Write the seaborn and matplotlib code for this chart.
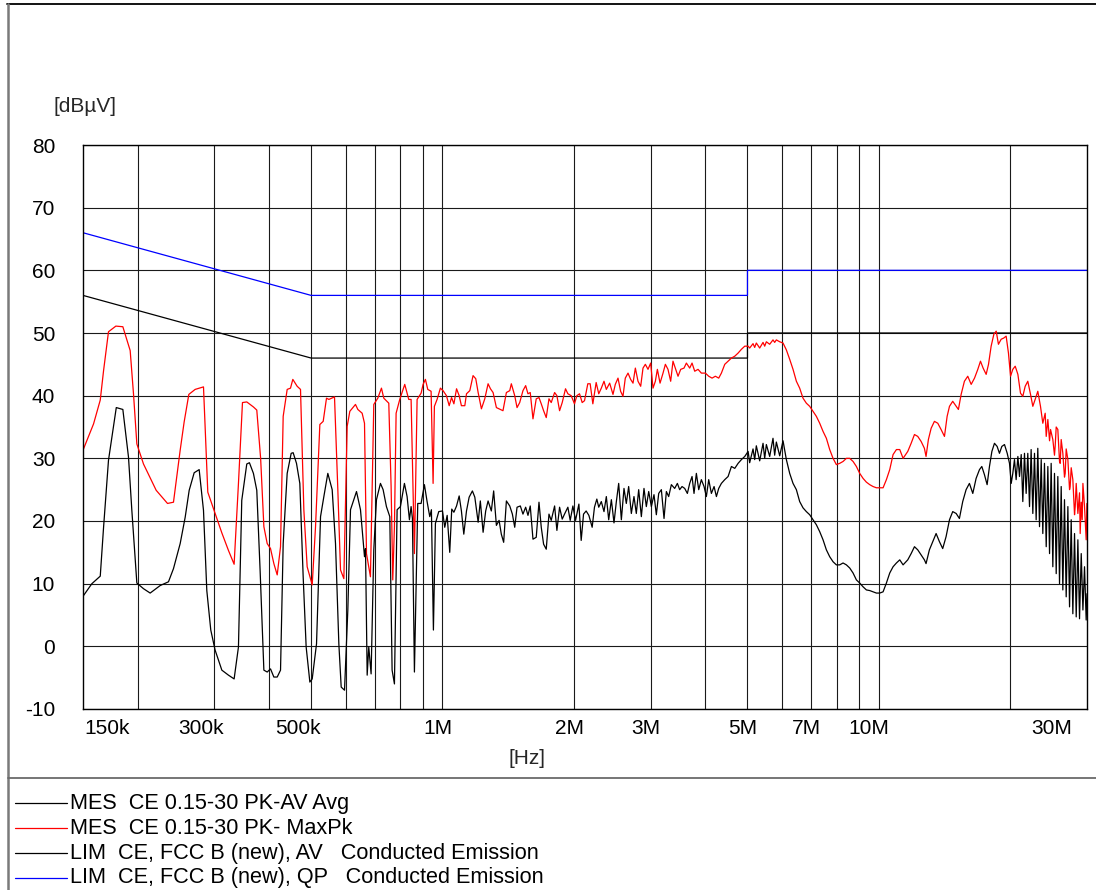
import numpy as np
import pandas as pd
import matplotlib
matplotlib.use("Agg")
import matplotlib.pyplot as plt
import matplotlib.transforms as mtransforms
from matplotlib.lines import Line2D
from matplotlib.ticker import NullLocator
import seaborn as sns

# ---------------------------------------------------------------- data
# MaxPk trace: frequency in MHz, level in dBµV
pk_freq = [
    0.1504, 0.1586, 0.1643, 0.1672, 0.1716, 0.1784, 0.1851, 0.1924, 0.1958, 0.1993,
    0.2064, 0.2207, 0.2343, 0.2418, 0.2505, 0.2558, 0.2622, 0.2711, 0.2833, 0.2898,
    0.3012, 0.3121, 0.3232, 0.3330, 0.3407, 0.3480, 0.3560, 0.3687, 0.3753, 0.3830,
    0.3896, 0.3965, 0.4035, 0.4107, 0.4180, 0.4254, 0.4314, 0.4406, 0.4484, 0.4539,
    0.4644, 0.4727, 0.4811, 0.4896, 0.5028, 0.5117, 0.5235, 0.5328, 0.5422, 0.5490,
    0.5656, 0.5756, 0.5838, 0.5942, 0.6047, 0.6132, 0.6318, 0.6397, 0.6544, 0.6626,
    0.6696, 0.6837, 0.6959, 0.7108, 0.7246, 0.7336, 0.7532, 0.7625, 0.7692, 0.7760,
    0.7829, 0.7981, 0.8194, 0.8369, 0.8473, 0.8623, 0.8746, 0.8932, 0.9027, 0.9138,
    0.9252, 0.9416, 0.9516, 0.9582, 0.9718, 0.9890,
    1.003, 1.021, 1.036, 1.049, 1.062, 1.077, 1.092, 1.105, 1.125, 1.135,
    1.155, 1.175, 1.192, 1.207, 1.228, 1.250, 1.272, 1.288, 1.306, 1.329,
    1.348, 1.376, 1.401, 1.426, 1.438, 1.464, 1.482, 1.503, 1.529, 1.551,
    1.570, 1.589, 1.612, 1.640, 1.664, 1.684, 1.705, 1.729, 1.754, 1.775,
    1.807, 1.829, 1.855, 1.881, 1.914, 1.938, 1.972, 2.007, 2.032, 2.061,
    2.090, 2.116, 2.153, 2.180, 2.211, 2.250, 2.281,
    2.312, 2.345, 2.374, 2.416, 2.459, 2.489, 2.525, 2.560, 2.592, 2.624,
    2.662, 2.699, 2.733, 2.767, 2.806, 2.846, 2.881, 2.917, 2.958, 3.000,
    3.037, 3.075, 3.108, 3.152, 3.202, 3.242, 3.287, 3.334, 3.375, 3.417,
    3.466, 3.515, 3.577, 3.622, 3.686, 3.732, 3.785, 3.852, 3.920, 4.004,
    4.075, 4.148, 4.221, 4.296, 4.357, 4.435, 4.514, 4.594, 4.676, 4.759,
    4.843, 4.929, 5.017,
    5.058, 5.149, 5.194, 5.239, 5.333, 5.428, 5.476, 5.524, 5.622, 5.721,
    5.772, 5.823, 5.927, 6.032, 6.139, 6.248, 6.359, 6.472, 6.586, 6.703,
    6.822, 6.943, 7.067, 7.192, 7.320, 7.450, 7.582, 7.717, 7.854, 7.993,
    8.135, 8.280, 8.427, 8.576, 8.729, 8.884, 9.041, 9.202, 9.365, 9.531,
    9.701, 9.873, 10.048, 10.227, 10.408, 10.593, 10.781, 10.973, 11.168, 11.366,
    11.65, 11.86, 12.07, 12.28, 12.50, 12.72, 12.83, 12.99, 13.18, 13.41,
    13.65, 13.89, 14.14, 14.34, 14.52, 14.77, 15.04, 15.22, 15.44, 15.71,
    15.99, 16.28, 16.57, 16.86, 17.10, 17.34, 17.62, 17.84, 18.09, 18.35,
    18.58, 18.80, 19.07, 19.34, 19.58, 19.82, 20.04, 20.28, 20.54, 20.83,
    21.12, 21.38, 21.65, 21.95, 22.27, 22.54, 22.82, 23.14, 23.47, 23.76,
    24.06, 24.19, 24.40, 24.62, 24.75, 25.05, 25.27, 25.36, 25.50, 25.72,
    25.95, 26.04, 26.18, 26.41, 26.64, 26.74, 26.88, 27.12, 27.36, 27.45,
    27.60, 27.84, 28.09, 28.19, 28.34, 28.59, 28.84, 28.94, 29.10, 29.25,
    29.36, 29.61, 29.87, 29.98,
]
pk_level = [
    31.5, 35.5, 39.3, 44.0, 50.2, 51.1, 51.0, 47.2, 40.3, 32.3,
    29.1, 24.9, 22.8, 23.0, 31.3, 35.8, 40.2, 41.0, 41.4, 24.6,
    21.2, 18.1, 15.3, 13.1, 26.0, 38.9, 39.0, 38.2, 37.7, 30.0,
    19.1, 16.4, 15.6, 13.2, 11.4, 15.9, 36.7, 41.0, 41.2, 42.6,
    41.5, 41.0, 21.8, 12.7, 9.8, 19.1, 35.4, 35.9, 39.6, 39.4,
    39.8, 25.0, 12.2, 10.8, 35.1, 37.5, 38.6, 37.8, 37.2, 35.6,
    14.8, 11.1, 38.6, 39.6, 41.2, 39.6, 38.8, 25.5, 10.6, 19.1,
    37.2, 39.4, 41.8, 39.4, 39.4, 14.8, 39.4, 40.4, 41.8, 42.6,
    41.0, 40.7, 26.0, 38.3, 39.4, 41.2,
    40.8, 40.0, 38.4, 39.7, 38.7, 41.1, 40.0, 38.4, 38.4, 40.3,
    40.8, 43.2, 42.7, 40.5, 37.9, 39.5, 41.9, 41.1, 40.5, 38.1,
    37.9, 37.6, 40.5, 40.8, 41.9, 40.0, 38.1, 38.9, 40.8, 41.6,
    40.3, 40.5, 36.3, 39.5, 39.7, 38.7, 37.6, 36.5, 39.5, 38.9,
    40.5, 40.0, 37.6, 38.9, 41.1, 40.3, 40.0, 38.7, 40.0, 40.3,
    38.9, 39.2, 41.9, 41.9, 38.7, 42.1, 40.3,
    41.2, 42.3, 41.0, 42.0, 40.2, 41.8, 42.8, 40.7, 39.9, 42.8,
    43.6, 42.6, 42.0, 44.4, 42.3, 41.5, 44.4, 45.0, 44.2, 45.2,
    41.2, 42.3, 44.2, 42.0, 43.6, 45.0, 44.2, 42.3, 45.5, 44.4,
    43.1, 44.2, 44.4, 45.2, 44.4, 45.2, 43.9, 44.2, 43.6, 43.6,
    43.1, 42.8, 43.1, 42.8, 43.6, 45.0, 45.5, 46.0, 46.3, 46.8,
    47.4, 47.9, 47.9,
    47.6, 48.3, 47.7, 48.4, 47.6, 48.5, 47.9, 48.6, 48.2, 48.9,
    48.5, 48.9, 48.6, 48.4, 47.3, 45.8, 44.2, 42.3, 41.2, 39.6,
    38.8, 38.3, 37.5, 36.7, 35.6, 34.3, 33.2, 31.4, 30.0, 29.0,
    29.2, 29.5, 30.0, 30.0, 29.5, 28.7, 27.6, 26.8, 26.2, 25.8,
    25.5, 25.3, 25.3, 25.3, 26.6, 28.2, 30.6, 31.4, 31.4, 30.0,
    31.1, 32.4, 33.8, 33.5, 32.7, 31.6, 30.3, 33.0, 34.8, 35.9,
    35.6, 34.6, 33.5, 36.7, 38.3, 39.1, 38.3, 37.8, 40.2, 42.3,
    43.1, 41.8, 42.8, 44.2, 45.5, 44.4, 43.4, 45.0, 47.9, 49.8,
    50.3, 48.2, 49.0, 49.2, 49.5, 46.8, 43.1, 44.2, 44.7, 43.4,
    40.4, 39.9, 41.5, 42.3, 40.2, 38.3, 39.4, 40.7, 38.3, 35.6,
    37.2, 33.5, 36.2, 32.8, 34.6, 33.0, 30.5, 31.9, 35.0, 34.6,
    29.5, 29.2, 33.0, 30.8, 27.0, 27.6, 31.5, 29.8, 25.0, 25.5,
    28.5, 26.6, 21.0, 22.3, 26.0, 21.2, 24.5, 18.0, 23.0, 20.2,
    26.0, 22.3, 17.0, 22.8,
]

# Average trace: frequency in MHz, level in dBµV
av_freq = [
    0.1504, 0.1572, 0.1643, 0.1672, 0.1716, 0.1788, 0.1851, 0.1907, 0.1941, 0.1993,
    0.2064, 0.2138, 0.2254, 0.2355, 0.2418, 0.2505, 0.2572, 0.2627, 0.2697, 0.2769,
    0.2833, 0.2883, 0.2944, 0.3012, 0.3121, 0.3232, 0.3330, 0.3407, 0.3467, 0.3560,
    0.3610, 0.3687, 0.3753, 0.3820, 0.3896, 0.3965, 0.4035, 0.4107, 0.4180, 0.4254,
    0.4314, 0.4406, 0.4500, 0.4547, 0.4628, 0.4710, 0.4794, 0.4870, 0.4966, 0.5028,
    0.5144, 0.5254, 0.5347, 0.5460, 0.5587, 0.5686, 0.5787, 0.5859, 0.5963, 0.6068,
    0.6154, 0.6352, 0.6487, 0.6626, 0.6661, 0.6720, 0.6777, 0.6861, 0.6959, 0.7058,
    0.7208, 0.7310, 0.7439, 0.7572, 0.7665, 0.7760, 0.7870, 0.8009, 0.8180, 0.8296,
    0.8399, 0.8473, 0.8533, 0.8623, 0.8776, 0.8932, 0.9090, 0.9219, 0.9350, 0.9432,
    0.9532, 0.9633, 0.9804,
    1.000, 1.012, 1.025, 1.039, 1.050, 1.062, 1.077, 1.092, 1.105, 1.119,
    1.135, 1.151, 1.171, 1.186, 1.207, 1.221, 1.239, 1.256, 1.272, 1.294,
    1.310, 1.329, 1.348, 1.364, 1.381, 1.401, 1.426, 1.446, 1.464, 1.482,
    1.508, 1.529, 1.551, 1.570, 1.589, 1.612, 1.640, 1.664, 1.684, 1.705,
    1.729, 1.754, 1.775, 1.807, 1.829, 1.855, 1.881, 1.904, 1.938, 1.962,
    1.990, 2.018, 2.054, 2.079, 2.105, 2.134, 2.165, 2.203, 2.230, 2.258,
    2.281,
    2.312, 2.345, 2.374, 2.404, 2.438, 2.472, 2.503, 2.534, 2.570, 2.606,
    2.638, 2.671, 2.709, 2.747, 2.781, 2.816, 2.856, 2.896, 2.932, 2.969,
    3.011, 3.053, 3.091, 3.130, 3.174, 3.219, 3.259, 3.299, 3.346, 3.405,
    3.454, 3.496, 3.540, 3.590, 3.641, 3.686, 3.732, 3.771, 3.818, 3.866,
    3.920, 3.976, 4.025, 4.075, 4.133, 4.192, 4.244, 4.296, 4.357, 4.435,
    4.514, 4.594, 4.676, 4.759, 4.843, 4.929, 5.017,
    5.058, 5.149, 5.194, 5.239, 5.333, 5.428, 5.476, 5.524, 5.622, 5.721,
    5.772, 5.823, 5.927, 6.032, 6.139, 6.248, 6.359, 6.472, 6.586, 6.703,
    6.822, 6.943, 7.067, 7.192, 7.320, 7.450, 7.582, 7.717, 7.854, 7.993,
    8.135, 8.280, 8.427, 8.576, 8.729, 8.884, 9.041, 9.202, 9.365, 9.531,
    9.701, 9.873, 10.048, 10.227, 10.408, 10.593, 10.781, 10.973, 11.168, 11.366,
    11.65, 11.86, 12.07, 12.28, 12.50, 12.72, 12.83, 13.06, 13.29, 13.53,
    13.77, 14.01, 14.26, 14.52, 14.77, 15.04, 15.30, 15.57, 15.85, 16.13,
    16.42, 16.71, 17.01, 17.22, 17.46, 17.71, 17.93, 18.16, 18.41, 18.67,
    18.90, 19.14, 19.41, 19.69, 19.93, 20.11, 20.28, 20.46, 20.64, 20.83,
    21.01, 21.20, 21.38, 21.57, 21.76, 21.95, 22.15, 22.34, 22.54, 22.74,
    22.94, 23.14, 23.35, 23.56, 23.76, 23.97, 24.19, 24.40, 24.62, 24.83,
    25.05, 25.27, 25.50, 25.72, 25.95, 26.18, 26.41, 26.64, 26.88, 27.12,
    27.36, 27.60, 27.84, 28.09, 28.34, 28.59, 28.84, 29.10, 29.36, 29.61,
    29.87, 30.00,
]
av_level = [
    8.1, 10.0, 11.2, 19.0, 29.7, 38.1, 37.8, 30.2, 21.7, 10.1,
    9.2, 8.5, 9.7, 10.3, 12.4, 16.4, 20.6, 24.9, 27.7, 28.2,
    21.7, 8.9, 2.6, -0.6, -3.8, -4.6, -5.2, -0.1, 23.3, 29.1,
    29.3, 27.6, 24.9, 12.0, -3.8, -4.1, -3.6, -4.9, -4.9, -3.8,
    16.4, 27.6, 30.8, 30.9, 29.2, 26.0, 11.1, -0.1, -5.7, -5.2,
    0.4, 20.7, 23.9, 27.6, 25.0, 16.4, 0.4, -6.5, -7.0, 5.8,
    21.8, 24.7, 21.8, 14.3, 15.6, -4.6, -0.1, -4.4, 15.4, 23.4,
    26.0, 25.0, 22.3, 20.7, -3.8, -6.0, 21.8, 22.3, 26.0, 23.9,
    20.2, 22.3, 20.4, -4.1, 22.8, 22.8, 25.8, 23.1, 20.7, 21.8,
    2.6, 19.6, 21.5,
    21.6, 19.0, 20.9, 15.0, 21.9, 21.4, 22.4, 24.0, 21.6, 17.9,
    21.6, 23.8, 24.8, 23.8, 19.8, 23.2, 18.2, 21.6, 23.2, 21.6,
    24.8, 19.3, 20.1, 17.9, 16.6, 23.2, 22.4, 21.1, 19.0, 22.2,
    22.4, 21.1, 22.2, 20.9, 22.4, 17.1, 17.4, 23.0, 19.0, 16.3,
    15.5, 21.1, 20.1, 22.4, 18.5, 22.2, 20.3, 21.1, 22.2, 20.1,
    22.4, 20.1, 22.7, 16.9, 21.1, 21.6, 20.9, 19.0, 22.2, 23.5,
    22.2,
    23.1, 21.5, 23.9, 20.2, 23.4, 19.7, 23.1, 26.0, 20.2, 25.2,
    22.8, 25.5, 21.2, 23.9, 21.2, 25.0, 20.7, 25.2, 22.3, 24.7,
    22.3, 24.2, 21.0, 24.4, 25.0, 20.4, 24.7, 23.9, 25.8, 25.2,
    26.0, 25.0, 25.5, 25.2, 24.4, 26.0, 27.1, 24.4, 27.6, 25.0,
    26.6, 25.5, 23.9, 26.6, 24.4, 25.5, 23.9, 25.2, 26.0, 26.6,
    27.1, 28.7, 28.4, 29.2, 29.8, 30.3, 31.1,
    29.3, 31.5, 29.8, 32.0, 29.6, 32.4, 30.0, 32.2, 30.3, 33.2,
    30.5, 32.6, 30.4, 32.8, 29.8, 27.6, 26.0, 25.0, 23.1, 22.1,
    21.5, 21.0, 20.2, 19.4, 18.3, 17.0, 15.4, 14.3, 13.5, 13.0,
    13.0, 13.3, 13.0, 12.5, 11.7, 10.6, 10.1, 9.5, 9.0, 8.9,
    8.7, 8.5, 8.5, 8.7, 10.1, 11.7, 12.7, 13.3, 13.8, 13.0,
    13.8, 14.8, 15.9, 15.4, 14.6, 13.8, 13.2, 15.4, 16.7, 18.0,
    16.7, 15.6, 17.5, 20.2, 21.5, 21.2, 20.4, 23.1, 25.0, 26.0,
    24.4, 26.8, 28.2, 28.7, 27.4, 25.8, 28.7, 31.1, 32.4, 31.9,
    30.8, 31.9, 32.2, 30.8, 29.2, 26.0, 27.6, 29.8, 26.6, 30.3,
    27.1, 30.6, 23.1, 30.8, 24.4, 30.8, 22.3, 31.4, 21.2, 30.8,
    20.2, 31.6, 19.1, 29.8, 18.0, 29.2, 15.9, 28.7, 14.8, 29.2,
    12.7, 27.6, 11.6, 27.1, 10.0, 25.5, 9.0, 23.4, 7.9, 22.3,
    6.3, 20.2, 5.2, 18.0, 4.7, 17.0, 4.4, 14.8, 5.8, 12.7,
    4.2, 8.4,
]

# FCC class B limit lines (MHz, dBµV)
lim_qp_freq = [0.15, 0.5, 5.0, 5.0, 30.0]
lim_qp_level = [66, 56, 56, 60, 60]
lim_av_freq = [0.15, 0.5, 5.0, 5.0, 30.0]
lim_av_level = [56, 46, 46, 50, 50]

# axis layout values
grid_freqs = [0.2, 0.3, 0.4, 0.5, 0.6, 0.7, 0.8, 0.9,
              1, 2, 3, 4, 5, 6, 7, 8, 9, 10, 20]
tick_freqs = [0.15, 0.3, 0.5, 1, 2, 3, 5, 7, 10, 30]
tick_labels = ["150k", "300k", "500k", "1M", "2M", "3M", "5M", "7M", "10M", "30M"]
y_ticks = list(range(-10, 81, 10))

legend_labels = [
    "MES  CE 0.15-30 PK-AV Avg",
    "MES  CE 0.15-30 PK- MaxPk",
    "LIM  CE, FCC B (new), AV   Conducted Emission",
    "LIM  CE, FCC B (new), QP   Conducted Emission",
]
legend_colors = ["#000000", "#ff0000", "#000000", "#0000ff"]

# ---------------------------------------------------------------- style
sns.set_theme(style="white")
plt.rcParams["font.family"] = ["Liberation Sans", "DejaVu Sans"]
plt.rcParams["axes.unicode_minus"] = False

W, H = 1096, 890
fig = plt.figure(figsize=(W / 100, H / 100), dpi=100)
fig.patch.set_facecolor("white")


def fx(px):
    return px / W


def fy(py):
    return 1 - py / H


ax = fig.add_axes([fx(83), fy(709), fx(1087) - fx(83), fy(145) - fy(709)])
ax.set_xscale("log")
ax.set_xlim(0.15, 30)
ax.set_ylim(-10, 80)

# grid
ax.set_xticks(grid_freqs)
ax.set_xticklabels([])
ax.xaxis.set_minor_locator(NullLocator())
ax.set_yticks(y_ticks)
ax.grid(True, color="#1a1a1a", linewidth=0.8)
ax.set_axisbelow(True)
ax.tick_params(axis="x", length=0)
ax.tick_params(axis="y", length=0, pad=20, labelsize=15, labelcolor="black")
for s in ax.spines.values():
    s.set_color("black")
    s.set_linewidth(1.0)

# limit lines
lim_av = pd.DataFrame({"freq": lim_av_freq, "level": lim_av_level})
lim_qp = pd.DataFrame({"freq": lim_qp_freq, "level": lim_qp_level})
sns.lineplot(data=lim_av, x="freq", y="level", ax=ax, color="black",
             linewidth=0.9, estimator=None, sort=False, legend=False)
sns.lineplot(data=lim_qp, x="freq", y="level", ax=ax, color="#0000ff",
             linewidth=0.9, estimator=None, sort=False, legend=False)

# measured traces
pk = pd.DataFrame({"freq": pk_freq, "level": pk_level})
av = pd.DataFrame({"freq": av_freq, "level": av_level})
sns.lineplot(data=pk, x="freq", y="level", ax=ax, color="#ff0000",
             linewidth=0.9, estimator=None, sort=False, legend=False)
sns.lineplot(data=av, x="freq", y="level", ax=ax, color="black",
             linewidth=0.9, estimator=None, sort=False, legend=False)

ax.set_xlabel("")
ax.set_ylabel("")

# frequency labels, set beside their grid lines
base = mtransforms.blended_transform_factory(ax.transData, ax.transAxes)
for f, lab in zip(tick_freqs, tick_labels):
    if lab == tick_labels[0]:
        ha, dx = "left", 1
    elif lab == tick_labels[-1]:
        ha, dx = "right", -15
    else:
        ha, dx = "right", 10
    tr = base + mtransforms.ScaledTranslation(dx / 100, 0, fig.dpi_scale_trans)
    ax.text(f, -0.017, lab, transform=tr, ha=ha, va="top", fontsize=15,
            color="black")

fig.text(fx(85), fy(106), "[dBµV]", ha="center", va="center", fontsize=15)
fig.text(fx(527), fy(758), "[Hz]", ha="center", va="center", fontsize=15)

# outer frame and legend divider
fig.add_artist(Line2D([fx(7), fx(1096)], [fy(4), fy(4)], transform=fig.transFigure,
                      color="black", linewidth=1.3))
fig.add_artist(Line2D([fx(8), fx(8)], [fy(4), fy(890)], transform=fig.transFigure,
                      color="#7a7a7a", linewidth=1.8))
fig.add_artist(Line2D([fx(8), fx(1096)], [fy(778), fy(778)], transform=fig.transFigure,
                      color="#6a6a6a", linewidth=1.3))

# legend rows
row_y = [803, 828, 853, 878]
for lab, col, yy in zip(legend_labels, legend_colors, row_y):
    fig.add_artist(Line2D([fx(15), fx(67)], [fy(yy), fy(yy)], transform=fig.transFigure,
                          color=col, linewidth=0.9))
    fig.text(fx(70), fy(yy), lab, ha="left", va="center", fontsize=15.6,
             color="black")

fig.savefig("out.png", dpi=100, facecolor="white")
